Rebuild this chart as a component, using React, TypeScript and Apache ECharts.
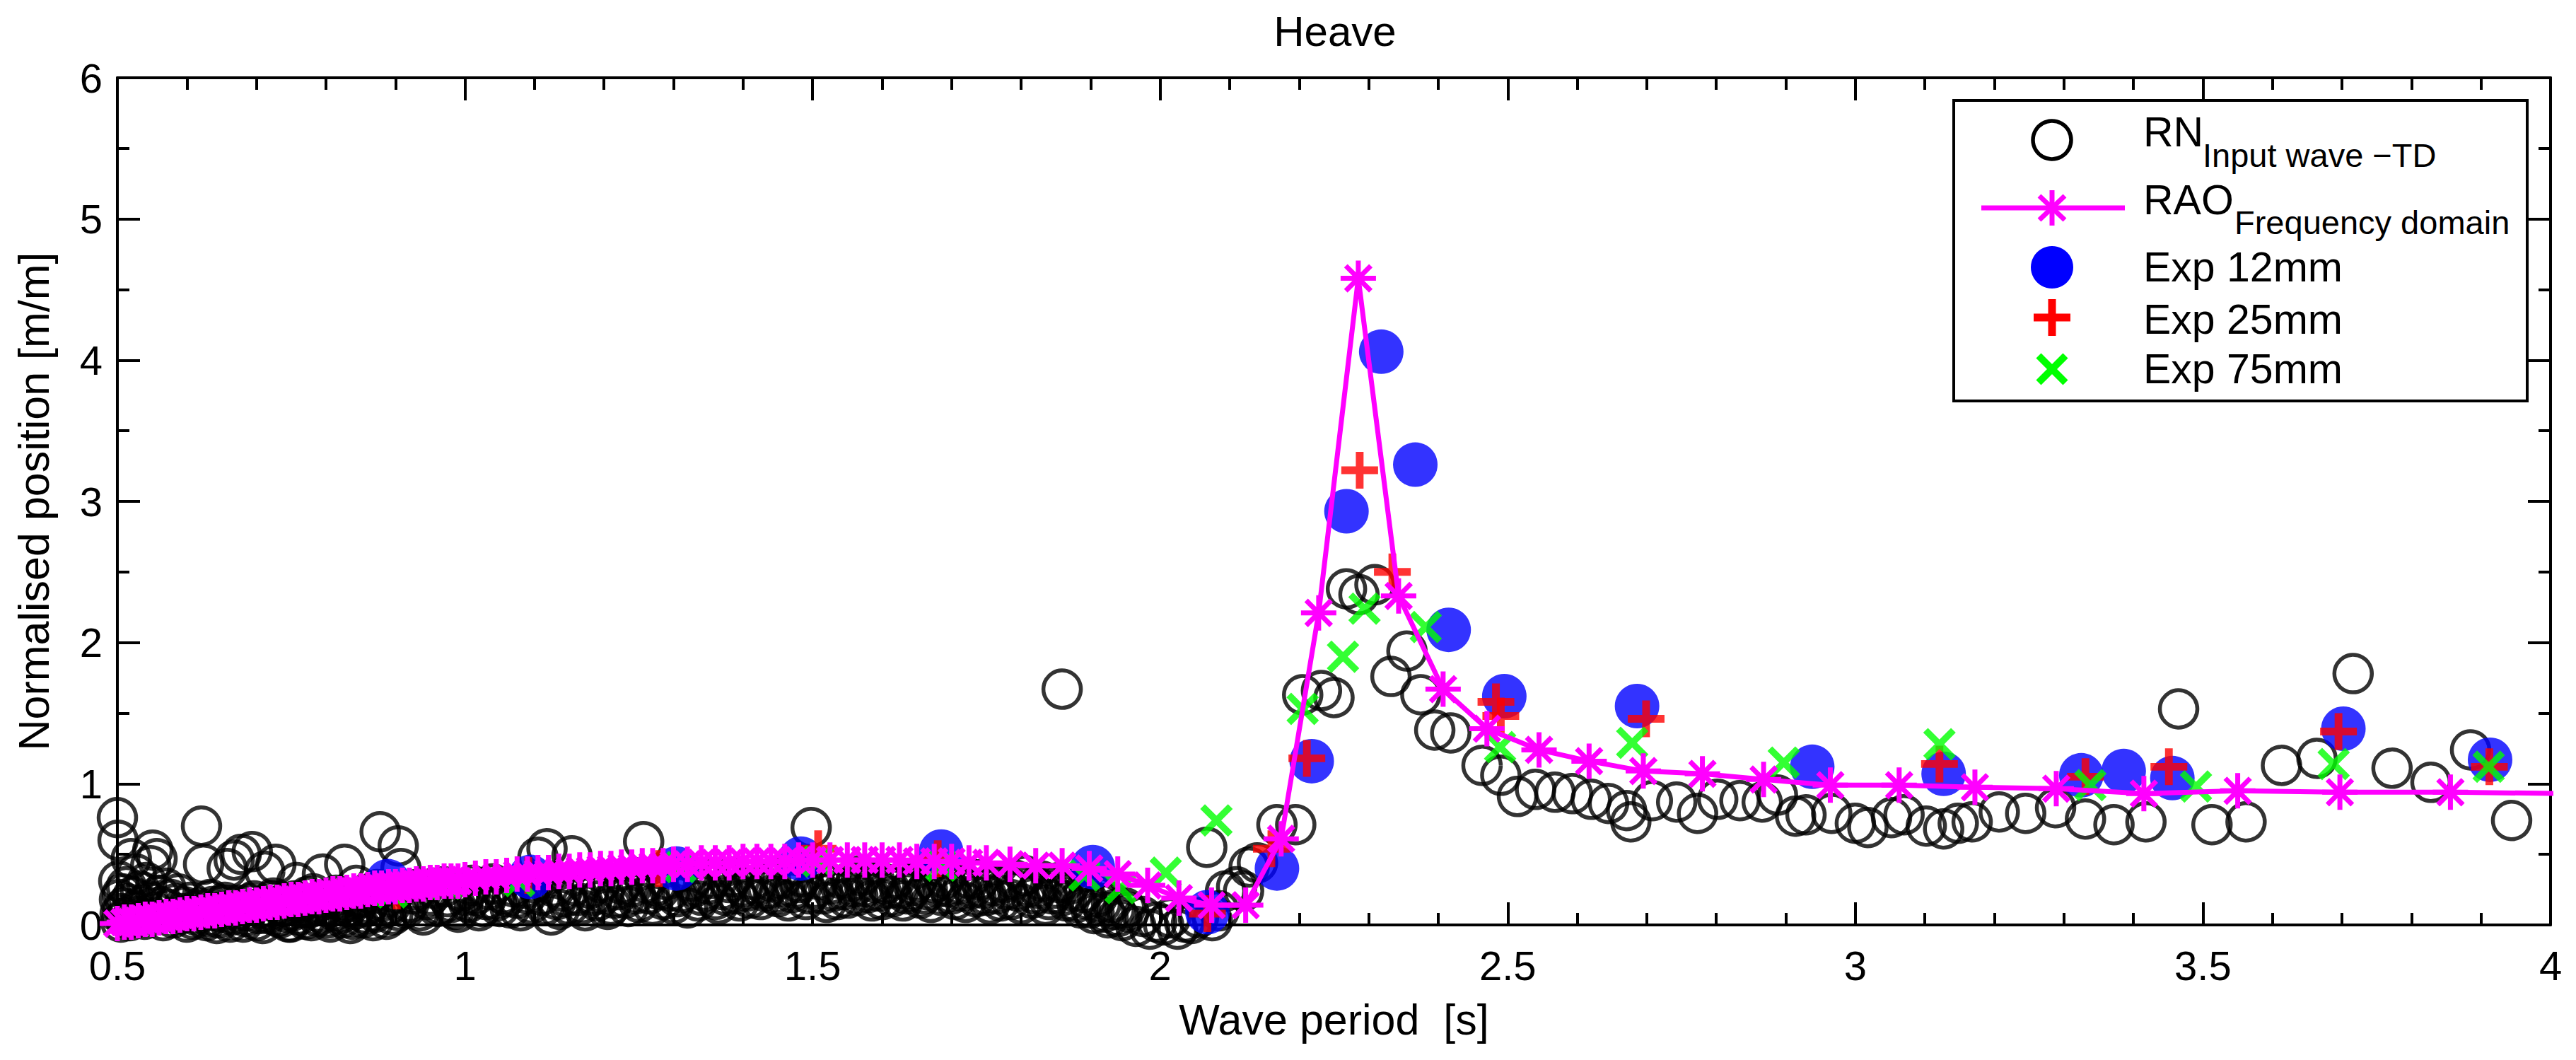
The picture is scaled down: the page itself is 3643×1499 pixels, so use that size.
import React, { useEffect, useRef } from "react";
import * as echarts from "echarts";

const FONT = "Liberation Sans, Arial, Helvetica, sans-serif";

// x-axis (wave period) and y-axis ranges
const xRange = [0.5, 4];
const yRange = [0, 6];

// RN input wave - TD (black open circles): individual runs
const rnData: [number, number][] = [
  [0.500, 0.76], [0.501, 0.60], [0.502, 0.31], [0.503, 0.18], [0.504, 0.08], [0.505, 0.02],
  [0.507, 0.22], [0.509, 0.12], [0.511, 0.05], [0.513, 0.27], [0.515, 0.15], [0.518, 0.03],
  [0.520, 0.47], [0.522, 0.20], [0.525, 0.10], [0.527, 0.36], [0.530, 0.06], [0.533, 0.24],
  [0.536, 0.14], [0.539, 0.04], [0.542, 0.30], [0.545, 0.17], [0.548, 0.42], [0.551, 0.53],
  [0.554, 0.09], [0.557, 0.47], [0.560, 0.21], [0.563, 0.13], [0.566, 0.03], [0.570, 0.26],
  [0.573, 0.11], [0.577, 0.18], [0.580, 0.05], [0.584, 0.15], [0.588, 0.22], [0.592, 0.08],
  [0.596, 0.13], [0.600, 0.02], [0.605, 0.16], [0.612, 0.07], [0.618, 0.12], [0.621, 0.70],
  [0.624, 0.43], [0.628, 0.03], [0.634, 0.18], [0.640, 0.10], [0.646, 0.05], [0.652, 0.14],
  [0.658, 0.40], [0.662, 0.02], [0.668, 0.46], [0.672, 0.10], [0.678, 0.50], [0.684, 0.06],
  [0.690, 0.15], [0.694, 0.52], [0.700, 0.03], [0.706, 0.12], [0.712, 0.38], [0.716, 0.08],
  [0.722, 0.17], [0.728, 0.43], [0.734, 0.05], [0.740, 0.13], [0.746, 0.02], [0.752, 0.10],
  [0.758, 0.30], [0.764, 0.16], [0.770, 0.04], [0.776, 0.12], [0.782, 0.22], [0.788, 0.06],
  [0.795, 0.36], [0.800, 0.14], [0.806, 0.02], [0.812, 0.10], [0.818, 0.18], [0.824, 0.05],
  [0.827, 0.43], [0.832, 0.13], [0.838, 0.04], [0.844, 0.28], [0.850, 0.20], [0.856, 0.08],
  [0.862, 0.15], [0.868, 0.03], [0.874, 0.25], [0.878, 0.66], [0.884, 0.12], [0.890, 0.20],
  [0.896, 0.07], [0.904, 0.56], [0.908, 0.40], [0.915, 0.12], [0.925, 0.22], [0.935, 0.10],
  [0.945, 0.18], [0.955, 0.26], [0.965, 0.14], [0.975, 0.20], [0.985, 0.11], [0.995, 0.24],
  [1.005, 0.16], [1.015, 0.21], [1.025, 0.13], [1.035, 0.25], [1.045, 0.17], [1.055, 0.22],
  [1.065, 0.12], [1.075, 0.19], [1.085, 0.26], [1.095, 0.15], [1.105, 0.48], [1.110, 0.21],
  [1.118, 0.54], [1.124, 0.07], [1.132, 0.18], [1.140, 0.24], [1.150, 0.14], [1.154, 0.49],
  [1.162, 0.21], [1.173, 0.10], [1.180, 0.26], [1.190, 0.17], [1.200, 0.22], [1.210, 0.14],
  [1.220, 0.25], [1.230, 0.19], [1.240, 0.27], [1.250, 0.16], [1.257, 0.59], [1.265, 0.22],
  [1.275, 0.28], [1.285, 0.18], [1.295, 0.24], [1.305, 0.20], [1.320, 0.12], [1.330, 0.27],
  [1.340, 0.21], [1.350, 0.29], [1.360, 0.18], [1.370, 0.25], [1.380, 0.30], [1.390, 0.22],
  [1.400, 0.27], [1.410, 0.19], [1.420, 0.28], [1.430, 0.24], [1.440, 0.31], [1.450, 0.20],
  [1.460, 0.27], [1.470, 0.23], [1.480, 0.30], [1.490, 0.18], [1.498, 0.69], [1.505, 0.26],
  [1.515, 0.22], [1.525, 0.29], [1.535, 0.18], [1.545, 0.25], [1.555, 0.31], [1.565, 0.21],
  [1.575, 0.27], [1.585, 0.17], [1.595, 0.24], [1.605, 0.29], [1.615, 0.20], [1.625, 0.26],
  [1.635, 0.22], [1.645, 0.28], [1.655, 0.19], [1.665, 0.25], [1.675, 0.30], [1.685, 0.21],
  [1.695, 0.27], [1.705, 0.18], [1.715, 0.24], [1.725, 0.33], [1.735, 0.20], [1.745, 0.26],
  [1.755, 0.15], [1.765, 0.22], [1.775, 0.30], [1.785, 0.18], [1.795, 0.24], [1.805, 0.35],
  [1.815, 0.19], [1.825, 0.26], [1.835, 0.14], [1.845, 0.22], [1.855, 0.30], [1.859, 1.67],
  [1.865, 0.17], [1.875, 0.24], [1.885, 0.12], [1.895, 0.18], [1.905, 0.08], [1.915, 0.15],
  [1.925, 0.05], [1.935, 0.11], [1.945, 0.03], [1.955, 0.09], [1.965, -0.01], [1.975, 0.06],
  [1.985, -0.03], [1.995, 0.02], [2.005, 0.00], [2.015, 0.05], [2.025, -0.03], [2.035, 0.02],
  [2.045, 0.01], [2.055, 0.05], [2.067, 0.55], [2.075, 0.03], [2.085, 0.10], [2.094, 0.24],
  [2.110, 0.27], [2.120, 0.24], [2.128, 0.41], [2.140, 0.44], [2.168, 0.71], [2.195, 0.71],
  [2.205, 1.63], [2.232, 1.66], [2.250, 1.61], [2.268, 2.38], [2.286, 2.34], [2.309, 2.41],
  [2.332, 1.76], [2.355, 1.94], [2.375, 1.63], [2.395, 1.38], [2.418, 1.36], [2.463, 1.13],
  [2.490, 1.06], [2.514, 0.91], [2.540, 0.96], [2.568, 0.94], [2.593, 0.93], [2.620, 0.89],
  [2.645, 0.86], [2.671, 0.81], [2.677, 0.73], [2.708, 0.88], [2.743, 0.87], [2.773, 0.79],
  [2.802, 0.89], [2.834, 0.88], [2.866, 0.87], [2.888, 0.92], [2.914, 0.77], [2.929, 0.78],
  [2.966, 0.79], [3.000, 0.72], [3.018, 0.69], [3.052, 0.76], [3.070, 0.78], [3.102, 0.70],
  [3.127, 0.68], [3.148, 0.72], [3.168, 0.73], [3.207, 0.80], [3.245, 0.79], [3.288, 0.83],
  [3.331, 0.75], [3.372, 0.71], [3.418, 0.73], [3.465, 1.53], [3.513, 0.71], [3.562, 0.73],
  [3.613, 1.13], [3.664, 1.18], [3.716, 1.78], [3.772, 1.11], [3.828, 1.01], [3.885, 1.24],
  [3.944, 0.74],
];

// RN input wave - TD: further runs filling the dense band at short periods
const rnBand: [number, number][] = [
  [0.609, 0.04], [0.615, 0.10], [0.631, 0.06], [0.637, 0.13], [0.643, 0.01], [0.649, 0.09],
  [0.655, 0.16], [0.665, 0.07], [0.675, 0.14], [0.681, 0.02], [0.687, 0.10], [0.697, 0.17],
  [0.703, 0.08], [0.709, 0.01], [0.719, 0.11], [0.725, 0.19], [0.731, 0.06], [0.737, 0.14],
  [0.743, 0.09], [0.749, 0.02], [0.755, 0.17], [0.761, 0.07], [0.767, 0.12], [0.773, 0.20],
  [0.779, 0.03], [0.785, 0.15], [0.791, 0.09], [0.797, 0.18], [0.803, 0.05], [0.809, 0.13],
  [0.815, 0.21], [0.821, 0.08], [0.829, 0.16], [0.835, 0.01], [0.841, 0.11], [0.847, 0.19],
  [0.853, 0.05], [0.859, 0.13], [0.865, 0.22], [0.871, 0.09], [0.881, 0.17], [0.887, 0.04],
  [0.893, 0.14], [0.899, 0.23], [0.905, 0.10], [0.920, 0.16], [0.930, 0.25], [0.940, 0.07],
  [0.950, 0.21], [0.960, 0.13], [0.970, 0.27], [0.980, 0.16], [0.990, 0.09], [1.000, 0.21],
  [1.010, 0.28], [1.020, 0.10], [1.030, 0.18], [1.040, 0.29], [1.050, 0.13], [1.060, 0.20],
  [1.070, 0.27], [1.080, 0.10], [1.090, 0.22], [1.100, 0.30], [1.115, 0.14], [1.128, 0.27],
  [1.136, 0.11], [1.145, 0.20], [1.158, 0.28], [1.168, 0.15], [1.185, 0.21], [1.195, 0.30],
  [1.205, 0.11], [1.215, 0.19], [1.225, 0.29], [1.235, 0.13], [1.245, 0.22], [1.260, 0.30],
  [1.270, 0.14], [1.280, 0.25], [1.290, 0.32], [1.300, 0.15], [1.312, 0.23], [1.325, 0.31],
  [1.335, 0.17], [1.345, 0.24], [1.355, 0.33], [1.365, 0.15], [1.375, 0.21], [1.385, 0.34],
  [1.395, 0.17], [1.405, 0.24], [1.415, 0.32], [1.425, 0.18], [1.435, 0.26], [1.445, 0.22],
  [1.455, 0.33], [1.465, 0.17], [1.475, 0.26], [1.485, 0.34], [1.495, 0.22], [1.510, 0.32],
  [1.520, 0.16], [1.530, 0.24], [1.540, 0.33], [1.550, 0.19], [1.560, 0.27], [1.570, 0.35],
  [1.580, 0.23], [1.590, 0.30], [1.600, 0.18], [1.610, 0.26], [1.620, 0.33], [1.630, 0.17],
  [1.640, 0.24], [1.650, 0.31], [1.660, 0.22], [1.670, 0.16], [1.680, 0.27], [1.690, 0.33],
  [1.700, 0.22], [1.710, 0.29], [1.720, 0.16], [1.730, 0.26], [1.740, 0.32], [1.750, 0.21],
  [1.760, 0.28], [1.770, 0.17], [1.780, 0.25], [1.790, 0.32], [1.800, 0.15], [1.810, 0.27],
  [1.820, 0.22], [1.830, 0.31], [1.840, 0.18], [1.850, 0.26], [1.860, 0.21], [1.870, 0.29],
  [1.880, 0.16], [1.890, 0.23], [1.900, 0.12], [1.910, 0.20], [1.920, 0.09], [1.930, 0.16],
  [1.940, 0.06], [1.950, 0.12],
];

// RAO frequency domain (magenta line with asterisks)
const raoData: [number, number][] = [
  [0.50, 0.01], [0.51, 0.02], [0.52, 0.02], [0.53, 0.03], [0.54, 0.04], [0.55, 0.04],
  [0.56, 0.05], [0.57, 0.06], [0.58, 0.06], [0.59, 0.07], [0.60, 0.08], [0.61, 0.08],
  [0.62, 0.09], [0.63, 0.10], [0.64, 0.10], [0.65, 0.11], [0.66, 0.12], [0.67, 0.12],
  [0.68, 0.13], [0.69, 0.14], [0.70, 0.14], [0.71, 0.15], [0.72, 0.16], [0.73, 0.16],
  [0.74, 0.17], [0.75, 0.18], [0.76, 0.18], [0.77, 0.19], [0.78, 0.20], [0.79, 0.20],
  [0.80, 0.21], [0.81, 0.22], [0.82, 0.22], [0.83, 0.23], [0.84, 0.24], [0.85, 0.24],
  [0.86, 0.25], [0.87, 0.26], [0.88, 0.26], [0.89, 0.27], [0.90, 0.27], [0.91, 0.28],
  [0.92, 0.28], [0.93, 0.29], [0.94, 0.29], [0.95, 0.30], [0.96, 0.30], [0.97, 0.31],
  [0.98, 0.31], [0.99, 0.31], [1.00, 0.32], [1.015, 0.33], [1.03, 0.34], [1.045, 0.34],
  [1.06, 0.35], [1.075, 0.36], [1.09, 0.36], [1.105, 0.37], [1.12, 0.37], [1.135, 0.38],
  [1.15, 0.38], [1.165, 0.39], [1.18, 0.39], [1.195, 0.40], [1.21, 0.40], [1.225, 0.41],
  [1.24, 0.41], [1.255, 0.42], [1.27, 0.42], [1.285, 0.42], [1.30, 0.43], [1.32, 0.43],
  [1.34, 0.44], [1.36, 0.44], [1.38, 0.44], [1.40, 0.45], [1.42, 0.45], [1.44, 0.45],
  [1.46, 0.45], [1.48, 0.46], [1.50, 0.46], [1.525, 0.46], [1.55, 0.46], [1.575, 0.46],
  [1.60, 0.46], [1.625, 0.46], [1.65, 0.45], [1.675, 0.45], [1.70, 0.45], [1.725, 0.44],
  [1.75, 0.44], [1.784, 0.43], [1.821, 0.42], [1.859, 0.42], [1.898, 0.40], [1.939, 0.36],
  [1.982, 0.28], [2.027, 0.19], [2.074, 0.14], [2.123, 0.14], [2.174, 0.61], [2.228, 2.21],
  [2.285, 4.58], [2.343, 2.33], [2.407, 1.67], [2.470, 1.39], [2.545, 1.24], [2.617, 1.16],
  [2.695, 1.09], [2.780, 1.07], [2.868, 1.03], [2.964, 0.99], [3.063, 0.99], [3.172, 0.975],
  [3.289, 0.965], [3.415, 0.93], [3.550, 0.95], [3.697, 0.94], [3.856, 0.94], [4.030, 0.93],
];

// Experiments
const exp12Data: [number, number][] = [
  [0.889, 0.31], [1.094, 0.34], [1.304, 0.40], [1.483, 0.47], [1.685, 0.52], [1.903, 0.41],
  [2.068, 0.09], [2.168, 0.40], [2.218, 1.16], [2.268, 2.93], [2.318, 4.06], [2.367, 3.26],
  [2.415, 2.09], [2.495, 1.62], [2.686, 1.55], [2.938, 1.12], [3.127, 1.07], [3.325, 1.06],
  [3.386, 1.09], [3.456, 1.04], [3.702, 1.39], [3.913, 1.17],
];
const exp25Data: [number, number][] = [
  [0.902, 0.24], [1.091, 0.35], [1.279, 0.40], [1.508, 0.54], [1.680, 0.47], [2.068, 0.08],
  [2.160, 0.54], [2.211, 1.18], [2.287, 3.22], [2.334, 2.50], [2.483, 1.58], [2.490, 1.48],
  [2.699, 1.46], [3.121, 1.14], [3.331, 1.05], [3.451, 1.12], [3.695, 1.37], [3.912, 1.12],
];
const exp75Data: [number, number][] = [
  [0.895, 0.23], [0.973, 0.29], [1.078, 0.31], [1.310, 0.41], [1.508, 0.45], [1.685, 0.42],
  [1.891, 0.35], [1.943, 0.26], [2.008, 0.37], [2.081, 0.74], [2.205, 1.53], [2.263, 1.90],
  [2.294, 2.24], [2.382, 2.11], [2.489, 1.26], [2.679, 1.29], [2.897, 1.15], [3.121, 1.28],
  [3.338, 0.99], [3.490, 0.98], [3.688, 1.14], [3.911, 1.12],
];

const legendLabels = ["RN", "RAO", "Exp 12mm", "Exp 25mm", "Exp 75mm"];
const legendSubs = ["Input wave \u2212TD", "Frequency domain"];

const STAR =
  "path://M-1.4,-10L1.4,-10L1.4,10L-1.4,10Z M-10,-1.4L10,-1.4L10,1.4L-10,1.4Z " +
  "M-6.08,-8.06L8.06,6.08L6.08,8.06L-8.06,-6.08Z M-6.08,8.06L-8.06,6.08L6.08,-8.06L8.06,-6.08Z";
const PLUS = "path://M-2.1,-10L2.1,-10L2.1,10L-2.1,10Z M-10,-2.1L10,-2.1L10,2.1L-10,2.1Z";
const CROSS =
  "path://M-8.3,-11.7L11.7,8.3L8.3,11.7L-11.7,-8.3Z M-8.3,11.7L-11.7,8.3L8.3,-11.7L11.7,-8.3Z";

function axisCommon(extra: any) {
  return {
    type: "value",
    splitLine: { show: false },
    minorSplitLine: { show: false },
    axisLine: { show: true, onZero: false, lineStyle: { color: "#000", width: 4 } },
    axisTick: { show: true, inside: true, length: 32, lineStyle: { color: "#000", width: 4 } },
    ...extra,
  };
}

const rnStyle = {
  type: "scatter",
  symbol: "circle",
  symbolSize: 53,
  clip: false,
  itemStyle: { color: "rgba(0,0,0,0)", borderColor: "#000", borderWidth: 5.5 },
  emphasis: { disabled: true },
};

export default function App() {
  const ref = useRef<HTMLDivElement>(null);
  useEffect(() => {
    document.body.style.margin = "0";
    if (!ref.current) return;
    const chart = echarts.init(ref.current, undefined, { renderer: "svg" });
    const legendText = (text: string, x: number, y: number, size: number) => ({
      type: "text",
      x,
      y,
      z: 101,
      style: { text, fill: "#000", font: `${size}px ${FONT}`, align: "left", verticalAlign: "middle" },
    });
    const option: any = {
      animation: false,
      backgroundColor: "#fff",
      textStyle: { fontFamily: FONT },
      title: {
        text: "Heave",
        left: 1888,
        top: 14,
        padding: 0,
        textAlign: "center",
        textStyle: { fontSize: 60, fontWeight: "normal", color: "#000", fontFamily: FONT },
      },
      grid: { left: 166, right: 36, top: 110, bottom: 191, containLabel: false },
      xAxis: [
        axisCommon({
          min: xRange[0],
          max: xRange[1],
          interval: 0.5,
          position: "bottom",
          minorTick: { show: true, splitNumber: 5, length: 17, lineStyle: { color: "#000", width: 4 } },
          axisLabel: { margin: 28, fontSize: 58, color: "#000", fontFamily: FONT },
          name: "Wave period  [s]",
          nameLocation: "middle",
          nameGap: 103,
          nameTextStyle: { fontSize: 61, color: "#000", fontFamily: FONT },
        }),
        axisCommon({
          min: xRange[0],
          max: xRange[1],
          interval: 0.5,
          position: "top",
          minorTick: { show: true, splitNumber: 5, length: 17, lineStyle: { color: "#000", width: 4 } },
          axisLabel: { show: false },
        }),
      ],
      yAxis: [
        axisCommon({
          min: yRange[0],
          max: yRange[1],
          interval: 1,
          position: "left",
          minorTick: { show: true, splitNumber: 2, length: 17, lineStyle: { color: "#000", width: 4 } },
          axisLabel: { margin: 21, fontSize: 58, color: "#000", fontFamily: FONT },
          name: "Normalised position [m/m]",
          nameLocation: "middle",
          nameGap: 88,
          nameTextStyle: { fontSize: 61, color: "#000", fontFamily: FONT },
        }),
        axisCommon({
          min: yRange[0],
          max: yRange[1],
          interval: 1,
          position: "right",
          minorTick: { show: true, splitNumber: 2, length: 17, lineStyle: { color: "#000", width: 4 } },
          axisLabel: { show: false },
        }),
      ],
      series: [
        { ...rnStyle, name: "RN", data: rnData },
        { ...rnStyle, name: "RN band", data: rnBand },
        {
          name: "RAO",
          type: "line",
          data: raoData,
          symbol: STAR,
          symbolSize: 50,
          showAllSymbol: true,
          clip: true,
          lineStyle: { color: "#ff00ff", width: 7 },
          itemStyle: { color: "#ff00ff" },
          emphasis: { disabled: true },
        },
        {
          name: "Exp 12mm",
          type: "scatter",
          data: exp12Data,
          symbol: "circle",
          symbolSize: 63,
          itemStyle: { color: "#0000ff" },
          emphasis: { disabled: true },
        },
        {
          name: "Exp 25mm",
          type: "scatter",
          data: exp25Data,
          symbol: PLUS,
          symbolSize: 52,
          itemStyle: { color: "#ff0000" },
          emphasis: { disabled: true },
        },
        {
          name: "Exp 75mm",
          type: "scatter",
          data: exp75Data,
          symbol: CROSS,
          symbolSize: 46,
          itemStyle: { color: "#00ff00" },
          emphasis: { disabled: true },
        },
      ],
      graphic: [
        {
          type: "rect",
          z: 100,
          shape: { x: 2763, y: 142, width: 811, height: 425 },
          style: { fill: "#fff", stroke: "#000", lineWidth: 4 },
        },
        // RN symbol
        { type: "circle", z: 101, shape: { cx: 2902, cy: 198, r: 27 }, style: { fill: "none", stroke: "#000", lineWidth: 5.5 } },
        // RAO symbol
        { type: "line", z: 101, shape: { x1: 2802, y1: 294, x2: 3005, y2: 294 }, style: { stroke: "#ff00ff", lineWidth: 7 } },
        { type: "line", z: 101, shape: { x1: 2902, y1: 269, x2: 2902, y2: 319 }, style: { stroke: "#ff00ff", lineWidth: 7 } },
        { type: "line", z: 101, shape: { x1: 2884, y1: 277, x2: 2920, y2: 311 }, style: { stroke: "#ff00ff", lineWidth: 7 } },
        { type: "line", z: 101, shape: { x1: 2884, y1: 311, x2: 2920, y2: 277 }, style: { stroke: "#ff00ff", lineWidth: 7 } },
        // Exp 12mm
        { type: "circle", z: 101, shape: { cx: 2902, cy: 378, r: 30 }, style: { fill: "#0000ff" } },
        // Exp 25mm
        { type: "rect", z: 101, shape: { x: 2876, y: 443.5, width: 52, height: 11 }, style: { fill: "#ff0000" } },
        { type: "rect", z: 101, shape: { x: 2896.5, y: 423, width: 11, height: 52 }, style: { fill: "#ff0000" } },
        // Exp 75mm
        { type: "line", z: 101, shape: { x1: 2883, y1: 503, x2: 2921, y2: 541 }, style: { stroke: "#00ff00", lineWidth: 10 } },
        { type: "line", z: 101, shape: { x1: 2883, y1: 541, x2: 2921, y2: 503 }, style: { stroke: "#00ff00", lineWidth: 10 } },
        legendText(legendLabels[0], 3031, 187, 59),
        legendText(legendSubs[0], 3115, 219, 47),
        legendText(legendLabels[1], 3031, 283, 59),
        legendText(legendSubs[1], 3160, 314, 47),
        legendText(legendLabels[2], 3031, 378, 59),
        legendText(legendLabels[3], 3031, 452, 59),
        legendText(legendLabels[4], 3031, 522, 59),
      ],
    };
    chart.setOption(option);
    return () => chart.dispose();
  }, []);
  return <div ref={ref} style={{ width: 3643, height: 1499 }} />;
}
